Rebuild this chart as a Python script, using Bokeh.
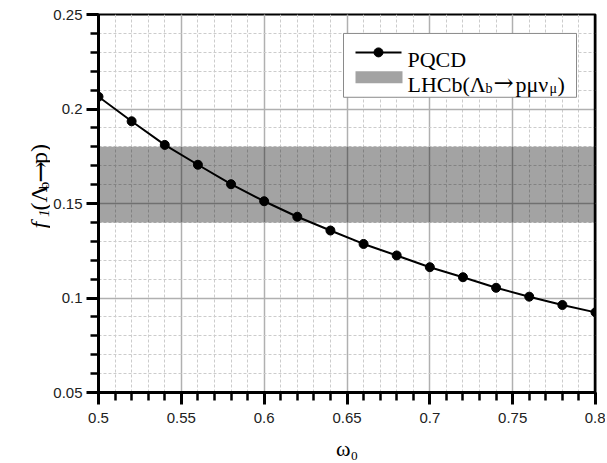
import math
from bokeh.plotting import figure
from bokeh.models import Range1d, FixedTicker, Label, Span
from bokeh.layouts import row
from bokeh.embed import file_html
from bokeh.resources import INLINE

# ---------------- data ----------------
omega0 = [0.50, 0.52, 0.54, 0.56, 0.58, 0.60, 0.62, 0.64,
          0.66, 0.68, 0.70, 0.72, 0.74, 0.76, 0.78, 0.80]
f1_pqcd = [0.2065, 0.1935, 0.1810, 0.1705, 0.1602, 0.1512, 0.1430, 0.1357,
           0.1286, 0.1225, 0.1163, 0.1110, 0.1054, 0.1007, 0.0963, 0.0924]
lhcb_low = 0.14
lhcb_high = 0.18

x_range = [0.5, 0.8]
y_range = [0.05, 0.25]
x_major = [0.5, 0.55, 0.6, 0.65, 0.7, 0.75, 0.8]
x_labels = ["0.5", "0.55", "0.6", "0.65", "0.7", "0.75", "0.8"]
y_major = [0.05, 0.1, 0.15, 0.2, 0.25]
y_labels = ["0.05", "0.1", "0.15", "0.2", "0.25"]
x_minor = [round(0.5 + 0.01 * i, 2) for i in range(31)]
y_minor = [round(0.05 + 0.01 * i, 2) for i in range(21)]
x_title = "ω₀"

SERIF = "Liberation Serif"
SANS = "Liberation Sans"
ARROWF = "DejaVu Serif"

# ---------------- layout geometry (page pixels) ----------------
LW = 50            # width of the y-title strip
PW, PH = 555, 463  # main figure
FL, FT, FR, FB = 98, 14, 595, 393  # frame edges in page pixels

p = figure(width=PW, height=PH, output_backend="svg", toolbar_location=None,
           x_range=Range1d(*x_range), y_range=Range1d(*y_range),
           min_border_left=FL - LW, min_border_right=LW + PW - FR,
           min_border_top=FT, min_border_bottom=PH - FB)
p.background_fill_color = "white"
p.border_fill_color = "white"
p.outline_line_color = "black"
p.outline_line_width = 2

for ax, ticks, labels, minor in ((p.xaxis[0], x_major, x_labels, x_minor),
                                 (p.yaxis[0], y_major, y_labels, y_minor)):
    ax.ticker = FixedTicker(ticks=ticks, minor_ticks=minor)
    ax.major_label_overrides = dict(zip(ticks, labels))
    ax.axis_line_width = 3
    ax.axis_line_color = "black"
    ax.major_tick_line_width = 3
    ax.minor_tick_line_width = 2.5
    ax.major_tick_out = 12
    ax.major_tick_in = 0
    ax.minor_tick_out = 8
    ax.minor_tick_in = 0
    ax.major_label_text_font = SANS
    ax.major_label_text_font_size = "15px"
    ax.major_label_text_color = "#222222"
p.xaxis.major_label_standoff = 8
p.yaxis.major_label_standoff = 4

p.xaxis.axis_label = x_title
p.xaxis.axis_label_text_font = SERIF
p.xaxis.axis_label_text_font_size = "22px"
p.xaxis.axis_label_text_font_style = "normal"
p.xaxis.axis_label_text_color = "black"
p.xaxis.axis_label_standoff = 10

for g in (p.xgrid[0], p.ygrid[0]):
    g.grid_line_color = "#b0b0b0"
    g.grid_line_width = 1.5
    g.minor_grid_line_color = "#cccccc"
    g.minor_grid_line_width = 1
    g.minor_grid_line_dash = "3 2"

# LHCb band
p.quad(left=[x_range[0]], right=[x_range[1]], bottom=[lhcb_low], top=[lhcb_high],
       fill_color="black", fill_alpha=0.36, line_color=None)

# PQCD curve
p.line(omega0, f1_pqcd, line_color="black", line_width=2)
p.scatter(omega0, f1_pqcd, size=9, fill_color="black", line_color="black")

# thicker right frame edge
p.add_layout(Span(location=x_range[1], dimension="height",
                  line_color="black", line_width=3.5))


# ---------------- helpers: page pixel -> data ----------------
def dx(px):
    return x_range[0] + (px - FL) / (FR - FL) * (x_range[1] - x_range[0])


def dy(py):
    return y_range[1] - (py - FT) / (FB - FT) * (y_range[1] - y_range[0])


def lab(x, y, text, size, font=SERIF, italic=False):
    p.add_layout(Label(x=dx(x), y=dy(y), text=text, text_font=font,
                       text_font_size=f"{size}px",
                       text_font_style="italic" if italic else "normal",
                       text_color="black", text_align="left",
                       text_baseline="alphabetic"))


# ---------------- legend ----------------
p.quad(left=[dx(343)], right=[dx(576)], top=[dy(33)], bottom=[dy(97)],
       fill_color="white", line_color="#8a8a8a", line_width=1)
p.line([dx(355), dx(401)], [dy(52), dy(52)], line_color="black", line_width=2)
p.scatter([dx(378)], [dy(52)], size=9, fill_color="black", line_color="black")
p.quad(left=[dx(355)], right=[dx(402)], bottom=[dy(83)], top=[dy(71)],
       fill_color="black", fill_alpha=0.36, line_color=None)

lab(407, 59, "PQCD", 22)
lab(407, 84, "LHCb(Λ", 22)
lab(485, 88, "b", 14)
lab(493, 83, "→", 24, font=ARROWF)
lab(515, 84, "pμν", 22)
lab(549, 88, "μ", 14)
lab(557, 84, ")", 22)

# ---------------- y title strip ----------------
yl = figure(width=LW, height=PH, output_backend="svg",
            toolbar_location=None, title=None,
            x_range=Range1d(0, LW), y_range=Range1d(0, PH),
            x_axis_type=None, y_axis_type=None, min_border=0)
yl.outline_line_color = None
yl.grid.visible = False
yl.border_fill_color = "white"
A = math.pi / 2
y_pieces = [  # (baseline x, start y (page px from top), text, size, style, font)
    (38, 262, "f", 24, "italic", SERIF),
    (43, 248, "1", 15, "italic", SERIF),
    (38, 240, "(Λ", 24, "normal", SERIF),
    (43, 214, "b", 15, "normal", SERIF),
    (39, 206, "→", 26, "normal", ARROWF),
    (38, 183, "p)", 24, "normal", SERIF),
]
for bx, sy, t, s, st, fnt in y_pieces:
    yl.add_layout(Label(x=bx, y=PH - sy, text=t, angle=A, text_font=fnt,
                        text_font_size=f"{s}px", text_font_style=st,
                        text_color="black", text_align="left",
                        text_baseline="alphabetic"))

layout = row(yl, p)
open("out.html", "w").write(file_html(layout, INLINE))
